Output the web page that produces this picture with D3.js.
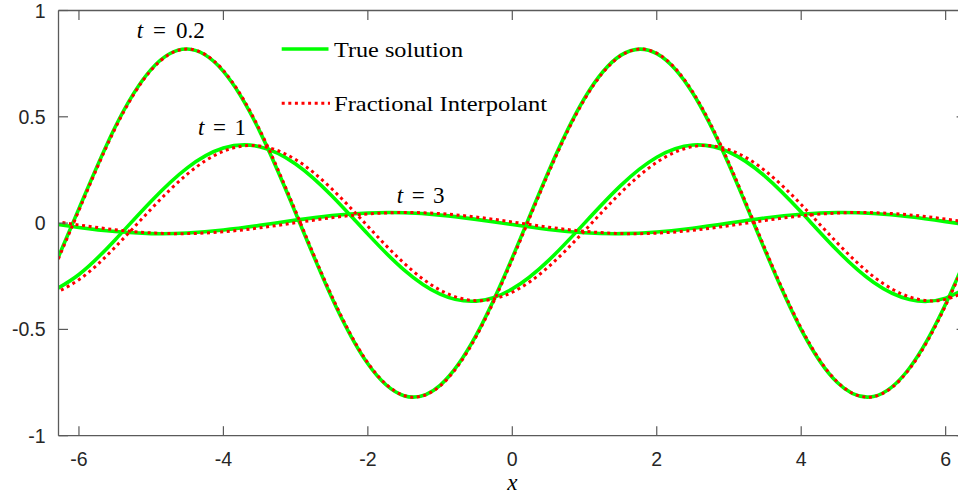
<!DOCTYPE html>
<html>
<head>
<meta charset="utf-8">
<script src="https://cdn.jsdelivr.net/npm/d3@7"></script>
<style>
  html, body { margin: 0; padding: 0; background: #fff; }
  svg { display: block; }
</style>
</head>
<body>
<svg id="chart" width="958" height="498"></svg>
<script>
// ---- data ----
const xs = [-6.5, -6.0, -5.5, -5.0, -4.5, -4.0, -3.5, -3.0, -2.5, -2.0, -1.5, -1.0, -0.5, 0.0,
            0.5, 1.0, 1.5, 2.0, 2.5, 3.0, 3.5, 4.0, 4.5, 5.0, 5.5, 6.0, 6.5];

const trueT02 = [-0.3315, 0.0680, 0.4509, 0.7233, 0.8186, 0.7136, 0.4338, 0.0478, -0.3499, -0.6619,
                 -0.8119, -0.7631, -0.5274, -0.1627, 0.2419, 0.5873, 0.7889, 0.7973, 0.6105, 0.2743,
                 -0.1291, -0.5009, -0.7501, -0.8156, -0.6814, -0.3804, 0.0138];
const trueT1 = [-0.3451, -0.2417, -0.0791, 0.1028, 0.2596, 0.3528, 0.3596, 0.2784, 0.1291, -0.0519,
                -0.2202, -0.3345, -0.3670, -0.3096, -0.1764, 0.0, 0.1764, 0.3096, 0.3670, 0.3345,
                0.2202, 0.0519, -0.1291, -0.2784, -0.3596, -0.3528, -0.2596];
const trueT3 = [0.0037, -0.0205, -0.0398, -0.0493, -0.0467, -0.0327, -0.0107, 0.0139, 0.0351, 0.0478,
                0.0487, 0.0377, 0.0175, -0.0070, -0.0298, -0.0453, -0.0497, -0.0419, -0.0239, 0.0,
                0.0239, 0.0419, 0.0497, 0.0453, 0.0298, 0.0070, -0.0175];

const fracT02 = [-0.3390, 0.0598, 0.4441, 0.7195, 0.8187, 0.7176, 0.4408, 0.0560, -0.3425, -0.6571,
                 -0.8108, -0.7661, -0.5337, -0.1707, 0.2341, 0.5816, 0.7867, 0.7992, 0.6160, 0.2820,
                 -0.1210, -0.4944, -0.7468, -0.8163, -0.6859, -0.3877, 0.0056];
const fracT1 = [-0.3533, -0.2660, -0.1137, 0.0665, 0.2304, 0.3379, 0.3627, 0.2987, 0.1615, -0.0152,
                -0.1882, -0.3151, -0.3648, -0.3253, -0.2061, -0.0364, 0.1421, 0.2859, 0.3597, 0.3454,
                0.2465, 0.0873, -0.0933, -0.2510, -0.3473, -0.3586, -0.2821];
const fracT3 = [0.0159, -0.0087, -0.0311, -0.0459, -0.0495, -0.0410, -0.0224, 0.0017, 0.0253, 0.0428,
                0.0498, 0.0446, 0.0285, 0.0054, -0.0190, -0.0387, -0.0490, -0.0473, -0.0339, -0.0123,
                0.0123, 0.0339, 0.0473, 0.0490, 0.0387, 0.0190, -0.0054];

const xTicks = [-6, -4, -2, 0, 2, 4, 6];
const xTickLabels = ["-6", "-4", "-2", "0", "2", "4", "6"];
const yTicks = [-1, -0.5, 0, 0.5, 1];
const yTickLabels = ["-1", "-0.5", "0", "0.5", "1"];
const seriesNames = ["True solution", "Fractional Interpolant"];
const curveLabels = [
  { t: "t", val: "0.2", x: -5.2, y: 0.87, gap: 10 },
  { t: "t", val: "1", x: -4.35, y: 0.415, gap: 8.5 },
  { t: "t", val: "3", x: -1.6, y: 0.096, gap: 8.5 }
];

// ---- drawing ----
const svg = d3.select("#chart");
const X0 = 58.5, X1 = 966.1, Y0 = 435.7, Y1 = 10.5;
const x = d3.scaleLinear().domain([-2 * Math.PI, 2 * Math.PI]).range([X0, X1]);
const y = d3.scaleLinear().domain([-1, 1]).range([Y0, Y1]);

const axisColor = "#5a5a5a";
const textColor = "#262626";
const sansFont = "'Liberation Sans', Arial, Helvetica, sans-serif";
const serifFont = "'Liberation Serif', 'Times New Roman', serif";

svg.append("defs").append("clipPath").attr("id", "plotclip")
  .append("rect").attr("x", X0).attr("y", Y1).attr("width", X1 - X0).attr("height", Y0 - Y1);

const line = d3.line().x((d, i) => x(xs[i])).y(d => y(d)).curve(d3.curveNatural);

const plot = svg.append("g").attr("clip-path", "url(#plotclip)");
const trueSeries = [trueT02, trueT1, trueT3];
const fracSeries = [fracT02, fracT1, fracT3];

trueSeries.forEach(s => {
  plot.append("path").datum(s).attr("d", line)
    .attr("fill", "none").attr("stroke", "#00ff00").attr("stroke-width", 3.6);
});
fracSeries.forEach(s => {
  plot.append("path").datum(s).attr("d", line)
    .attr("fill", "none").attr("stroke", "#ff0000").attr("stroke-width", 3)
    .attr("stroke-dasharray", "3,3.6");
});

// axes box
const ax = svg.append("g");
[[X0, Y0, X1, Y0], [X0, Y1, X1, Y1], [X0, Y0, X0, Y1], [X1, Y0, X1, Y1]].forEach(s => {
  ax.append("line").attr("x1", s[0]).attr("y1", s[1]).attr("x2", s[2]).attr("y2", s[3])
    .attr("stroke", axisColor).attr("stroke-width", 1.3);
});

const tickLen = 9.5;
// x ticks (bottom and top, inward)
xTicks.forEach((v, i) => {
  ax.append("line").attr("x1", x(v)).attr("x2", x(v)).attr("y1", Y0).attr("y2", Y0 - tickLen)
    .attr("stroke", axisColor).attr("stroke-width", 1.2);
  ax.append("line").attr("x1", x(v)).attr("x2", x(v)).attr("y1", Y1).attr("y2", Y1 + tickLen)
    .attr("stroke", axisColor).attr("stroke-width", 1.2);
  ax.append("text").attr("x", x(v)).attr("y", Y0 + 30)
    .attr("text-anchor", "middle").attr("font-family", sansFont).attr("font-size", 19.5)
    .attr("fill", textColor).text(xTickLabels[i]);
});
// y ticks (left and right, inward)
yTicks.forEach((v, i) => {
  ax.append("line").attr("x1", X0).attr("x2", X0 + tickLen).attr("y1", y(v)).attr("y2", y(v))
    .attr("stroke", axisColor).attr("stroke-width", 1.2);
  ax.append("line").attr("x1", X1).attr("x2", X1 - tickLen).attr("y1", y(v)).attr("y2", y(v))
    .attr("stroke", axisColor).attr("stroke-width", 1.2);
  ax.append("text").attr("x", X0 - 13).attr("y", y(v) + 7)
    .attr("text-anchor", "end").attr("font-family", sansFont).attr("font-size", 19.5)
    .attr("fill", textColor).text(yTickLabels[i]);
});

// x axis label
svg.append("text").attr("x", x(0)).attr("y", 490)
  .attr("text-anchor", "middle").attr("font-family", serifFont).attr("font-style", "italic")
  .attr("font-size", 23).attr("fill", "#000").text("x");

// curve labels
curveLabels.forEach(c => {
  const tx = svg.append("text").attr("x", x(c.x)).attr("y", y(c.y))
    .attr("font-family", serifFont).attr("font-size", 23).attr("fill", "#000");
  tx.append("tspan").attr("font-style", "italic").text(c.t);
  tx.append("tspan").attr("dx", c.gap).text("=");
  tx.append("tspan").attr("dx", c.gap).text(c.val);
});

// legend
const leg = svg.append("g");
leg.append("line").attr("x1", 281.7).attr("x2", 328.5).attr("y1", 49).attr("y2", 49)
  .attr("stroke", "#00ff00").attr("stroke-width", 3.6);
leg.append("line").attr("x1", 281.7).attr("x2", 330).attr("y1", 103.3).attr("y2", 103.3)
  .attr("stroke", "#ff0000").attr("stroke-width", 3).attr("stroke-dasharray", "3,3.6");
leg.append("text").attr("x", 334).attr("y", 56.7)
  .attr("font-family", serifFont).attr("font-size", 22).attr("fill", "#000")
  .attr("textLength", 129).attr("lengthAdjust", "spacingAndGlyphs").text(seriesNames[0]);
leg.append("text").attr("x", 334).attr("y", 110.7)
  .attr("font-family", serifFont).attr("font-size", 22).attr("fill", "#000")
  .attr("textLength", 213).attr("lengthAdjust", "spacingAndGlyphs").text(seriesNames[1]);
</script>
</body>
</html>
